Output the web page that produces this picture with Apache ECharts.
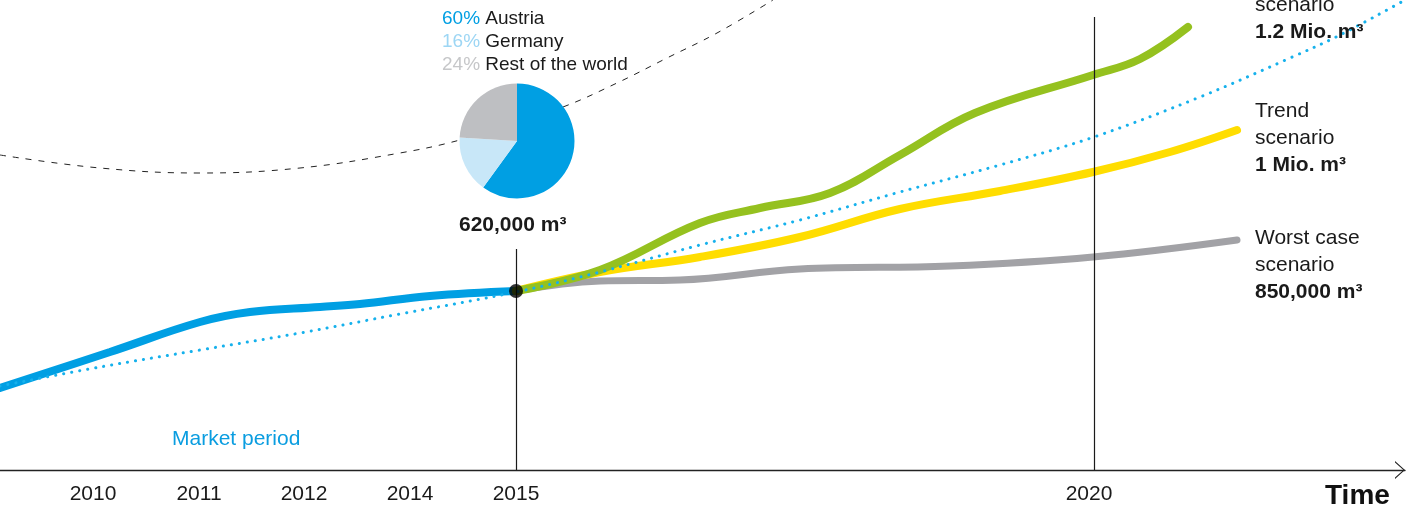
<!DOCTYPE html>
<html>
<head>
<meta charset="utf-8">
<script src="https://cdn.jsdelivr.net/npm/echarts@6/dist/echarts.min.js"></script>
<style>
  html, body { margin: 0; padding: 0; background: #fff; }
  #chart { width: 1413px; height: 509px; }
</style>
</head>
<body>
<div id="chart"></div>
<script>
// x = position along the time axis, y = height above the axis (schematic chart, no y scale)
const tickPos = [93, 199, 304, 410, 516, 1089]
const tickLabels = ['2010', '2011', '2012', '2014', '2015', '2020']

const marketData = [[0, 82], [110, 118], [200, 148], [250, 158], [320, 163], [360, 166], [430, 174], [516, 179]]
const trendDots = [[0, 84], [100, 103], [200, 120], [300, 137], [400, 156], [516, 178], [600, 198],
  [700, 225], [800, 250], [900, 278], [1000, 305], [1094, 333], [1200, 373], [1290, 412], [1340, 435], [1405, 470]]
const bestCase = [[516, 179], [600, 200], [700, 247], [760, 262], [830, 277], [900, 315], [975, 357],
  [1093, 395], [1140, 411], [1188, 443]]
const trendCase = [[516, 179], [600, 198], [700, 213], [800, 233], [900, 261], [1000, 279], [1093, 298],
  [1170, 318], [1237, 340]]
const worstCase = [[516, 179], [600, 189], [680, 190], [800, 201], [950, 204], [1093, 213], [1237, 230]]
const arcData = [[0, 315], [100, 302], [200, 297], [300, 302], [400, 317], [460, 330], [510, 346],
  [563, 363], [617, 387], [667, 412], [717, 437], [773, 470]]
const now = [[516, 179]]

const shareNames = ['Austria', 'Germany', 'Rest of the world']
const shareValues = [60, 16, 24]
const shareColors = ['#009fe3', '#c8e7f8', '#bebfc2']
const shareTextColors = ['#009fe3', '#9dd6f4', '#c6c7c9']

const FONT = '"Liberation Sans", Arial, Helvetica, sans-serif'
const INK = '#1a1a1a'

let myChart = echarts.init(document.getElementById('chart'))

// legend lines above the pie
let legendRich = { n: { fontSize: 19, lineHeight: 23, fill: INK, fontFamily: FONT } }
let legendText = shareNames.map((name, i) => {
  legendRich['p' + i] = { fontSize: 19, lineHeight: 23, fill: shareTextColors[i], fontFamily: FONT }
  return `{p${i}|${shareValues[i]}%}{n| ${name}}`
}).join('\n')

const labelRich = {
  n: { fontSize: 21, lineHeight: 27, fill: INK, fontFamily: FONT },
  b: { fontSize: 21, lineHeight: 27, fill: INK, fontFamily: FONT, fontWeight: 'bold' }
}

function sideLabel(top, a, b, c) {
  return {
    type: 'text', left: 1255, top: top, z: 20,
    style: { text: `{n|${a}}\n{n|${b}}\n{b|${c}}`, rich: labelRich }
  }
}

function thickLine(name, data, color, width) {
  return {
    name: name, type: 'line', data: data, smooth: 0.4, symbol: 'none', silent: true,
    lineStyle: { color: color, width: width, cap: 'round' }, z: 3
  }
}

myChart.setOption({
  animation: false,
  grid: { left: 0, right: 8, top: 0, bottom: 39, outerBoundsMode: 'none', containLabel: false },
  xAxis: {
    type: 'value', min: 0, max: 1405,
    axisLine: {
      show: true,
      lineStyle: { color: '#222', width: 1.4 },
      symbol: ['none', 'path://M0,10 L9,0 L18,10 L16.6,10 L9,1.6 L1.4,10 Z'],
      symbolSize: [18, 10],
      symbolOffset: [0, -5]
    },
    axisTick: { show: false },
    splitLine: { show: false },
    axisLabel: {
      customValues: tickPos,
      formatter: (v) => tickLabels[tickPos.indexOf(v)] || '',
      margin: 14, fontSize: 21, color: INK, fontFamily: FONT
    }
  },
  yAxis: { type: 'value', min: 0, max: 470, show: false },
  series: [
    {
      // dashed arc behind the pie
      type: 'line', data: arcData, smooth: 0.4, symbol: 'none', silent: true, z: 1,
      lineStyle: { color: '#222', width: 1, type: [6, 7] }
    },
    {
      ...thickLine('Market period', marketData, '#009fe3', 8),
      markLine: {
        silent: true, symbol: 'none', label: { show: false },
        lineStyle: { color: INK, width: 1.2, type: 'solid' },
        data: [
          [{ coord: [516, 221] }, { coord: [516, 0] }],
          [{ coord: [1094, 453] }, { coord: [1094, 0] }]
        ]
      }
    },
    thickLine('Worst case', worstCase, '#a2a2a6', 7),
    thickLine('Trend', trendCase, '#ffdd00', 8),
    thickLine('Best case', bestCase, '#95c11f', 8),
    {
      type: 'line', data: trendDots, smooth: 0.35, symbol: 'none', silent: true, z: 4,
      lineStyle: { color: '#16b1ec', width: 3, type: [0.1, 8], cap: 'round' }
    },
    {
      type: 'scatter', data: now, symbolSize: 14, silent: true, z: 6,
      itemStyle: { color: '#000' }
    },
    {
      type: 'pie', center: [517, 141], radius: 57.5, startAngle: 90, clockwise: true,
      silent: true, z: 5, label: { show: false }, labelLine: { show: false },
      data: shareNames.map((name, i) => ({ name: name, value: shareValues[i], itemStyle: { color: shareColors[i] } }))
    }
  ],
  graphic: [
    { type: 'text', left: 442, top: 9, z: 20, style: { text: legendText, rich: legendRich } },
    {
      type: 'text', left: 459, top: 215, z: 20,
      style: { text: '620,000 m³', fontSize: 21, fontWeight: 'bold', fill: INK, fontFamily: FONT }
    },
    {
      type: 'text', left: 172, top: 429, z: 20,
      style: { text: 'Market period', fontSize: 21, fill: '#0a9de0', fontFamily: FONT }
    },
    sideLabel(-32, 'Best case', 'scenario', '1.2 Mio. m³'),
    sideLabel(101, 'Trend', 'scenario', '1 Mio. m³'),
    sideLabel(228, 'Worst case', 'scenario', '850,000 m³'),
    {
      type: 'text', left: 1325, top: 482, z: 20,
      style: { text: 'Time', fontSize: 28, fontWeight: 'bold', fill: '#111', fontFamily: FONT }
    }
  ]
})

window.addEventListener('resize', () => myChart.resize())
</script>
</body>
</html>
